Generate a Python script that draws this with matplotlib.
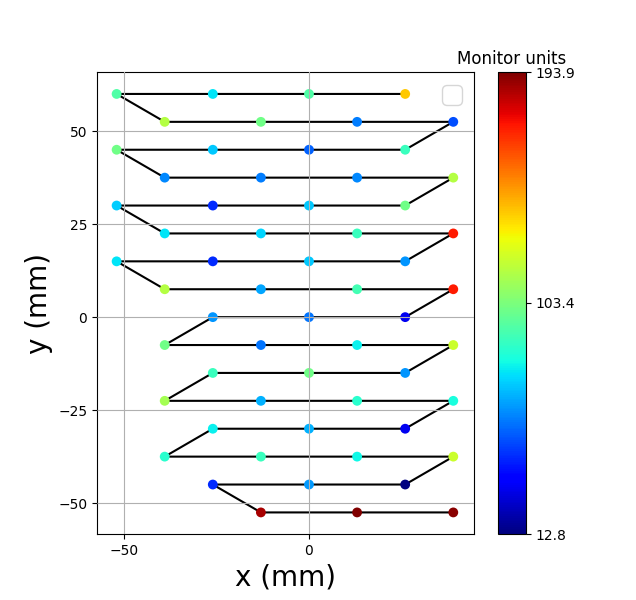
import matplotlib
matplotlib.use("Agg")
import matplotlib.pyplot as plt
from matplotlib.ticker import MultipleLocator

# spot positions (mm) in scan order, and monitor units per spot
x_mm = [26, 0, -26, -52,
        -39, -13, 13, 39,
        26, 0, -26, -52,
        -39, -13, 13, 39,
        26, 0, -26, -52,
        -39, -13, 13, 39,
        26, 0, -26, -52,
        -39, -13, 13, 39,
        26, 0, -26,
        -39, -13, 13, 39,
        26, 0, -26,
        -39, -13, 13, 39,
        26, 0, -26,
        -39, -13, 13, 39,
        26, 0, -26,
        -13, 13, 39]
y_mm = [60, 60, 60, 60,
        52.5, 52.5, 52.5, 52.5,
        45, 45, 45, 45,
        37.5, 37.5, 37.5, 37.5,
        30, 30, 30, 30,
        22.5, 22.5, 22.5, 22.5,
        15, 15, 15, 15,
        7.5, 7.5, 7.5, 7.5,
        0, 0, 0,
        -7.5, -7.5, -7.5, -7.5,
        -15, -15, -15,
        -22.5, -22.5, -22.5, -22.5,
        -30, -30, -30,
        -37.5, -37.5, -37.5, -37.5,
        -45, -45, -45,
        -52.5, -52.5, -52.5]
mu = [139, 94, 76, 94,
      116, 101, 58, 49,
      89, 53, 71, 101,
      60, 58, 60, 116,
      101, 71, 43, 72,
      76, 73, 89, 172,
      62, 71, 43, 76,
      116, 65, 91, 172,
      31, 56, 62,
      101, 56, 78, 121,
      62, 101, 89,
      112, 67, 85, 82,
      31, 67, 78,
      85, 89, 80, 121,
      12.8, 63, 43,
      187, 193.9, 192]

mu_min, mu_mid, mu_max = 12.8, 103.4, 193.9

fig = plt.figure(figsize=(6.36, 6), dpi=100)
ax = fig.add_axes([97 / 636, 66 / 600, 377 / 636, 462 / 600])
cax = fig.add_axes([498 / 636, 66 / 600, 28 / 636, 462 / 600])

ax.plot(x_mm, y_mm, color="black", lw=1.5, zorder=2)
sc = ax.scatter(x_mm, y_mm, c=mu, cmap="jet", vmin=mu_min, vmax=mu_max,
                s=50, edgecolors="none", zorder=2.2)
ax.set_axisbelow(False)
ax.grid(True, color="#b0b0b0", lw=0.8)
ax.legend(handles=[], loc="upper right", fontsize=18)

ax.set_xlim(-57.3, 44.6)
ax.set_ylim(-58.3, 65.9)
ax.xaxis.set_major_locator(MultipleLocator(50))
ax.yaxis.set_major_locator(MultipleLocator(25))
ax.set_xlabel("x (mm)", fontsize=20)
ax.set_ylabel("y (mm)", fontsize=20)

cb = fig.colorbar(sc, cax=cax, ticks=[mu_min, mu_mid, mu_max])
cb.ax.set_yticklabels([str(mu_min), str(mu_mid), str(mu_max)])
cb.ax.set_title("Monitor units", fontsize=12)

fig.savefig("out.png", dpi=100)
